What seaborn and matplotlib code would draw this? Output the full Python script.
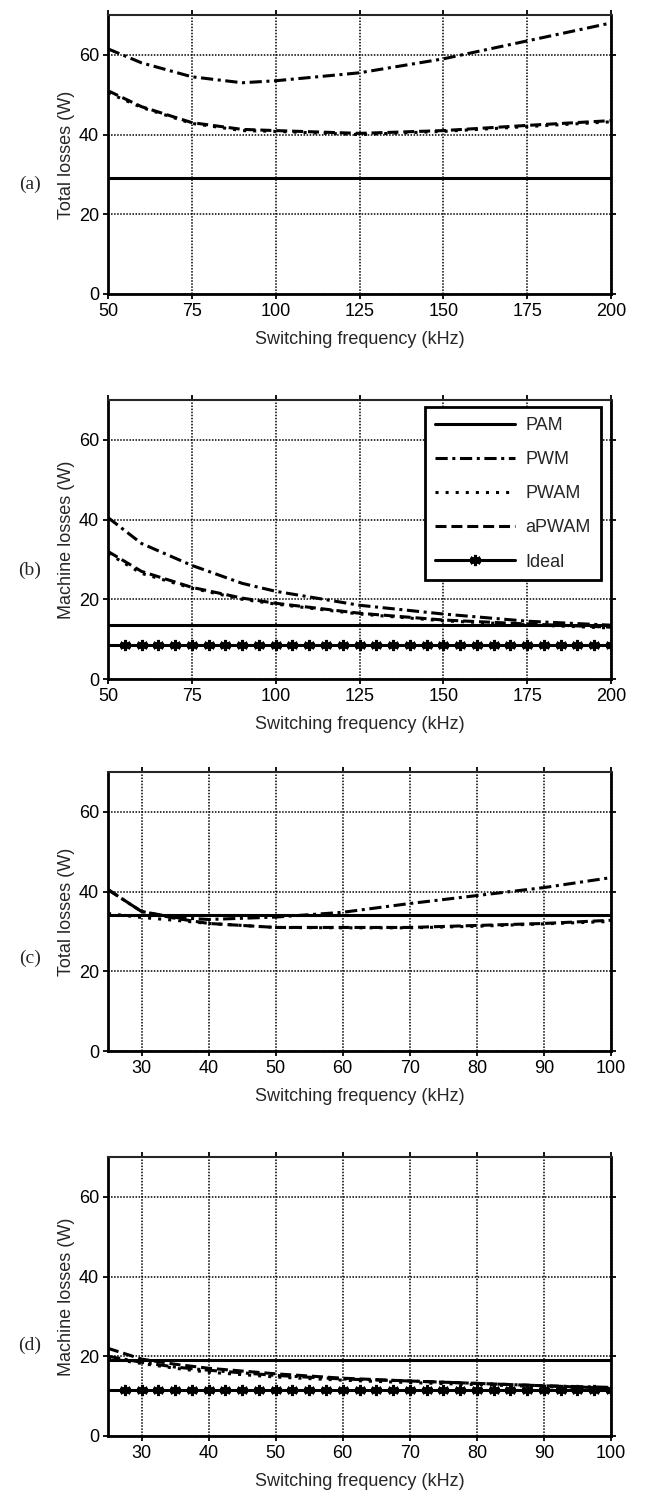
import numpy as np
import pandas as pd
import matplotlib
matplotlib.use('Agg')
import matplotlib.pyplot as plt
import seaborn as sns

sns.set_style("ticks")
plt.rcParams['font.family'] = ['Liberation Sans', 'DejaVu Sans']

# ---- data ----
# panel (a): total losses, 50-200 kHz
fa = [50, 60, 75, 90, 100, 125, 150, 175, 200]
a_pwm = [61.5, 58.0, 54.5, 53.0, 53.5, 55.5, 59.0, 63.5, 68.0]
a_pwam = [50.5, 46.8, 42.8, 41.0, 40.8, 40.0, 40.8, 42.0, 43.2]
a_apwam = [51.0, 47.0, 43.0, 41.3, 41.0, 40.3, 41.0, 42.3, 43.5]
a_pam = 29.0

# panel (b): machine losses, 50-200 kHz
fb = [50, 60, 75, 90, 100, 125, 150, 175, 200]
b_pwm = [40.5, 34.0, 28.5, 24.0, 22.0, 18.5, 16.3, 14.5, 13.5]
b_pwam = [31.5, 26.5, 22.8, 20.0, 18.8, 16.3, 14.6, 13.6, 12.8]
b_apwam = [32.0, 27.0, 23.0, 20.3, 19.0, 16.5, 14.8, 13.8, 13.0]
b_pam = 13.5
b_ideal = 8.5

# panel (c): total losses, 25-100 kHz
fc = [25, 30, 35, 40, 50, 60, 70, 80, 90, 100]
c_pwm = [40.5, 35.0, 33.5, 33.0, 33.6, 34.8, 37.0, 39.0, 41.0, 43.5]
c_pwam = [34.5, 33.5, 32.8, 32.0, 31.0, 30.9, 30.9, 31.3, 31.9, 32.5]
c_apwam = [40.5, 35.0, 33.3, 32.0, 31.0, 31.0, 31.0, 31.5, 32.0, 32.8]
c_pam = 34.0

# panel (d): machine losses, 25-100 kHz
fd = [25, 30, 35, 40, 50, 60, 70, 80, 90, 100]
d_pwm = [20.0, 18.5, 17.3, 16.5, 15.2, 14.3, 13.8, 13.2, 12.6, 12.2]
d_pwam = [19.5, 18.2, 17.0, 16.0, 14.8, 14.0, 13.4, 12.9, 12.4, 11.9]
d_apwam = [22.0, 19.3, 18.0, 17.0, 15.6, 14.5, 13.8, 13.2, 12.6, 12.0]
d_pam = 19.0
d_ideal = 11.5

ideal_fb = list(range(55, 201, 5))
ideal_fd = [25 + 2.5 * k for k in range(1, 31)]

xticks_ab = [50, 75, 100, 125, 150, 175, 200]
xticks_cd = [30, 40, 50, 60, 70, 80, 90, 100]
yticks = [0, 20, 40, 60]

LW = 2.2
FS = 13
styles = {
    'PAM': dict(linestyle='-'),
    'PWM': dict(linestyle=(0, (4.0, 1.5, 1.0, 1.5))),
    'PWAM': dict(linestyle=(0, (1.0, 2.3))),
    'aPWAM': dict(linestyle=(0, (3.6, 1.6))),
}

W, H = 647, 1501
fig = plt.figure(figsize=(W / 100, H / 100), dpi=100)

left = 108 / W
width = 503 / W
panel_h = 279 / H
bottoms = [1 - 294 / H, 1 - 679 / H, 1 - 1051 / H, 1 - 1436 / H]
letter_y = [184, 570, 958, 1345]


def draw_panel(ax, f, pwm, pwam, apwam, pam, ideal=None, ideal_f=None):
    sns.lineplot(x=f, y=[pam] * len(f), ax=ax, color='black', lw=LW, label='PAM', **styles['PAM'])
    sns.lineplot(x=f, y=pwm, ax=ax, color='black', lw=LW, label='PWM', **styles['PWM'])
    sns.lineplot(x=f, y=pwam, ax=ax, color='black', lw=LW, label='PWAM', **styles['PWAM'])
    sns.lineplot(x=f, y=apwam, ax=ax, color='black', lw=LW, label='aPWAM', **styles['aPWAM'])
    if ideal is not None:
        xs = [f[0]] + ideal_f
        sns.lineplot(x=xs, y=[ideal] * len(xs), ax=ax, color='black', lw=LW,
                     label='Ideal', marker=(6, 2, 0), markersize=8,
                     markeredgewidth=2.2, markeredgecolor='black', markerfacecolor='black',
                     markevery=list(range(1, len(xs))))


configs = [
    (fa, a_pwm, a_pwam, a_apwam, a_pam, None, None, xticks_ab, (50, 200), 'Total losses (W)'),
    (fb, b_pwm, b_pwam, b_apwam, b_pam, b_ideal, ideal_fb, xticks_ab, (50, 200), 'Machine losses (W)'),
    (fc, c_pwm, c_pwam, c_apwam, c_pam, None, None, xticks_cd, (25, 100), 'Total losses (W)'),
    (fd, d_pwm, d_pwam, d_apwam, d_pam, d_ideal, ideal_fd, xticks_cd, (25, 100), 'Machine losses (W)'),
]

for i, (f, pwm, pwam, apwam, pam, ideal, ideal_f, xt, xl, ylab) in enumerate(configs):
    ax = fig.add_axes([left, bottoms[i], width, panel_h])
    draw_panel(ax, f, pwm, pwam, apwam, pam, ideal, ideal_f)
    ax.set_xlim(*xl)
    ax.set_ylim(0, 70)
    ax.set_xticks(xt)
    ax.set_yticks(yticks)
    ax.grid(True, color='black', linestyle=(0, (1, 1)), lw=1.1)
    ax.tick_params(which='both', direction='out', length=3.5, width=1.3,
                   top=True, right=True, labelsize=FS, colors='black', pad=3)
    for side in ['left', 'bottom', 'right']:
        ax.spines[side].set_linewidth(2.0)
        ax.spines[side].set_color('black')
        ax.spines[side].set_visible(True)
    ax.spines['top'].set_linewidth(1.5)
    ax.spines['top'].set_visible(True)
    ax.set_xlabel('Switching frequency (kHz)', fontsize=FS, labelpad=8)
    ax.set_ylabel(ylab, fontsize=FS, labelpad=3)
    if i == 1:
        leg = ax.legend(loc='upper right', bbox_to_anchor=(0.98, 0.975), borderaxespad=0,
                        fontsize=FS, frameon=True, fancybox=False, handlelength=4.4,
                        handletextpad=0.6, labelspacing=0.95, borderpad=0.55)
        leg.get_frame().set_edgecolor('black')
        leg.get_frame().set_linewidth(2.0)
        leg.get_frame().set_alpha(1)
    else:
        ax.get_legend().remove()
    fig.text(30 / W, 1 - letter_y[i] / H, '(' + 'abcd'[i] + ')', ha='center', va='center',
             fontsize=14, family=['Liberation Serif', 'DejaVu Serif'])

fig.savefig('out.png', dpi=100)
